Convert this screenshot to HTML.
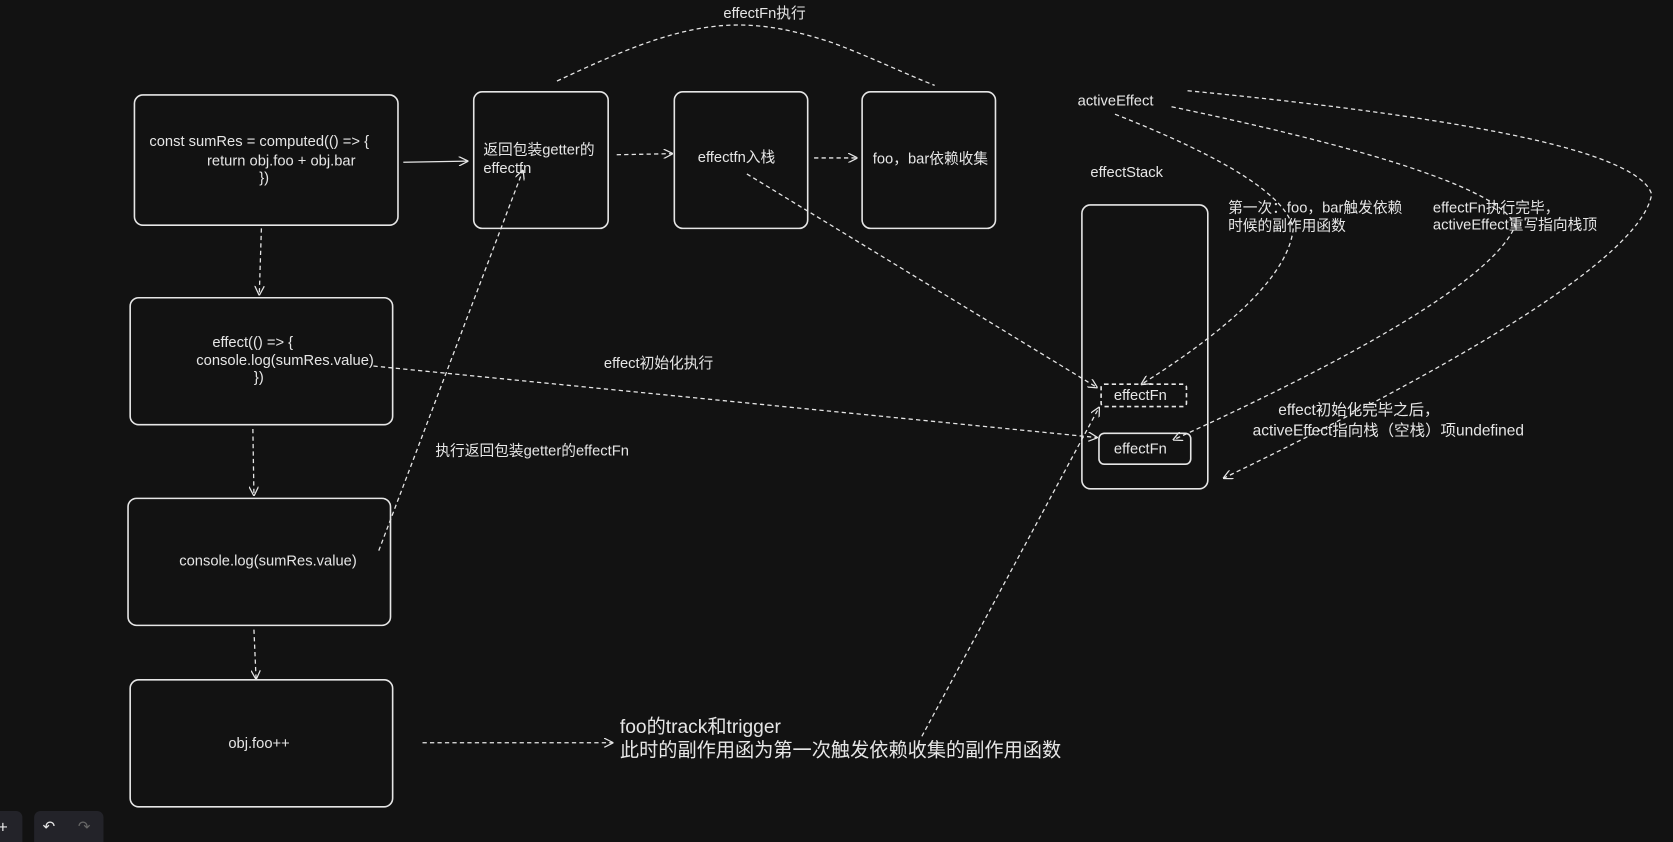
<!DOCTYPE html>
<html><head><meta charset="utf-8">
<style>
html,body{margin:0;padding:0;background:#121212;overflow:hidden}
svg{display:block}
text{font-family:"Liberation Sans","Noto Sans CJK SC",sans-serif;fill:#e6e6e6;font-size:13.8px}
</style></head>
<body>
<svg width="1673" height="842" viewBox="0 0 1568 789" preserveAspectRatio="none" xmlns="http://www.w3.org/2000/svg">
<defs>
<marker id="a" viewBox="0 0 10 10" refX="9" refY="5" markerWidth="9" markerHeight="9" orient="auto-start-reverse" markerUnits="userSpaceOnUse">
<path d="M0,0 L10,5 L0,10" fill="none" stroke="#e6e6e6" stroke-width="1.3"/>
</marker>
</defs>
<rect width="1568" height="789" fill="#121212"/>
<g fill="none" stroke="#e6e6e6" stroke-width="1.5">
<rect x="126" y="89" width="247" height="122" rx="8"/>
<rect x="444" y="86" width="126" height="128" rx="8"/>
<rect x="632" y="86" width="125" height="128" rx="8"/>
<rect x="808" y="86" width="125" height="128" rx="8"/>
<rect x="122" y="279" width="246" height="119" rx="8"/>
<rect x="120" y="467" width="246" height="119" rx="8"/>
<rect x="122" y="637" width="246" height="119" rx="8"/>
<rect x="1014" y="192" width="118" height="266" rx="8"/>
<rect x="1032" y="360" width="80" height="21" rx="3" stroke-dasharray="4 3"/>
<rect x="1030" y="406" width="86" height="29" rx="5"/>
</g>
<g fill="none" stroke="#e6e6e6" stroke-width="1.2" stroke-dasharray="4 3" marker-end="url(#a)">
<path d="M378,152 L438,151" stroke-dasharray="none"/>
<path d="M578,145 L630,144"/>
<path d="M763,148 L803,148"/>
<path d="M245,214 L243,276"/>
<path d="M237,402 L238,464"/>
<path d="M238,590 L240,636"/>
<path d="M396,696 L574,696"/>
<path d="M355,516 L490,160"/>
<path d="M700,163 L1028,363"/>
<path d="M350,343 L1028,410"/>
<path d="M864,690 L1030,382"/>
<path d="M1045,107 Q1205,170 1212,215 Q1205,275 1070,360"/>
<path d="M1098,100 Q1405,165 1420,212 Q1390,280 1100,412"/>
<path d="M1113,85 Q1530,125 1548,182 Q1535,260 1147,448"/>
</g>
<path d="M522,76 C640,20 690,10 780,40 C820,55 850,70 876,80" fill="none" stroke="#e6e6e6" stroke-width="1.2" stroke-dasharray="4 3"/>
<text x="140" y="137">const sumRes = computed(() =&gt; {</text>
<text x="194" y="155">return obj.foo + obj.bar</text>
<text x="243" y="171">})</text>
<text x="453" y="145">返回包装getter的</text>
<text x="453" y="162">effectfn</text>
<text x="654" y="152">effectfn入栈</text>
<text x="818" y="153">foo，bar依赖收集</text>
<text x="199" y="325">effect(() =&gt; {</text>
<text x="184" y="342">console.log(sumRes.value)</text>
<text x="238" y="358">})</text>
<text x="168" y="530">console.log(sumRes.value)</text>
<text x="214" y="701">obj.foo++</text>
<text x="678" y="17">effectFn执行</text>
<text x="566" y="345">effect初始化执行</text>
<text x="408" y="427">执行返回包装getter的effectFn</text>
<text x="581" y="687" style="font-size:18px">foo的track和trigger</text>
<text x="581" y="709" style="font-size:18px">此时的副作用函为第一次触发依赖收集的副作用函数</text>
<text x="1010" y="99">activeEffect</text>
<text x="1022" y="166">effectStack</text>
<text x="1151" y="199">第一次：foo，bar触发依赖</text>
<text x="1151" y="216">时候的副作用函数</text>
<text x="1343" y="199">effectFn执行完毕，</text>
<text x="1343" y="215">activeEffect重写指向栈顶</text>
<text x="1044" y="375">effectFn</text>
<text x="1044" y="425">effectFn</text>
<text x="1198" y="389" style="font-size:14.5px">effect初始化完毕之后，</text>
<text x="1174" y="408" style="font-size:14.5px">activeEffect指向栈（空栈）项undefined</text>
<rect x="-10" y="760" width="31" height="40" rx="6" fill="#232329"/>
<text x="-2" y="780" style="font-size:16px">+</text>
<rect x="32" y="760" width="65" height="40" rx="6" fill="#232329"/>
<text x="40" y="779" style="font-size:14px">↶</text>
<text x="73" y="779" style="font-size:14px;fill:#666">↷</text>
</svg>
</body></html>
